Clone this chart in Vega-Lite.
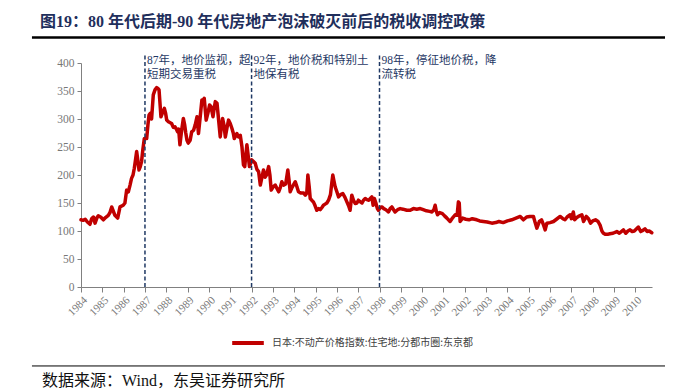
{
  "$schema": "https://vega.github.io/schema/vega-lite/v6.json",
  "autosize": "none",
  "width": 571,
  "height": 224,
  "padding": {"left": 81, "top": 63, "right": 31, "bottom": 102},
  "background": "white",
  "config": {"view": {"stroke": null}, "axis": {"labelOverlap": false, "grid": false}},
  "title": {
    "text": "图19：80 年代后期-90 年代房地产泡沫破灭前后的税收调控政策",
    "font": "Liberation Serif, Noto Sans CJK SC",
    "fontSize": 16,
    "fontWeight": "bold",
    "color": "#1f2f5c",
    "anchor": "start",
    "frame": "group",
    "dx": -41,
    "dy": 14,
    "offset": 20
  },
  "datasets": {
    "main": [
      {"t":1984.00,"v":120},{"t":1984.10,"v":119},{"t":1984.20,"v":121},{"t":1984.30,"v":116},{"t":1984.42,"v":112},
      {"t":1984.50,"v":122},{"t":1984.58,"v":125},{"t":1984.66,"v":114},{"t":1984.75,"v":124},{"t":1984.81,"v":127},
      {"t":1984.92,"v":125},{"t":1985.05,"v":120},{"t":1985.15,"v":124},{"t":1985.28,"v":128},{"t":1985.36,"v":133},
      {"t":1985.44,"v":143},{"t":1985.52,"v":135},{"t":1985.59,"v":128},{"t":1985.72,"v":123},{"t":1985.83,"v":143},
      {"t":1985.98,"v":146},{"t":1986.06,"v":150},{"t":1986.14,"v":173},{"t":1986.22,"v":170},{"t":1986.30,"v":182},
      {"t":1986.37,"v":194},{"t":1986.44,"v":200},{"t":1986.50,"v":212},{"t":1986.56,"v":228},{"t":1986.61,"v":242},
      {"t":1986.67,"v":225},{"t":1986.72,"v":209},{"t":1986.78,"v":215},{"t":1986.84,"v":224},{"t":1986.90,"v":245},
      {"t":1986.97,"v":265},{"t":1987.08,"v":265},{"t":1987.14,"v":290},{"t":1987.19,"v":307},{"t":1987.25,"v":310},
      {"t":1987.31,"v":300},{"t":1987.39,"v":343},{"t":1987.47,"v":352},{"t":1987.55,"v":356},{"t":1987.62,"v":354},
      {"t":1987.66,"v":352},{"t":1987.75,"v":304},{"t":1987.83,"v":312},{"t":1987.91,"v":319},{"t":1987.97,"v":310},
      {"t":1988.02,"v":298},{"t":1988.10,"v":295},{"t":1988.25,"v":292},{"t":1988.33,"v":285},{"t":1988.41,"v":286},
      {"t":1988.47,"v":282},{"t":1988.53,"v":277},{"t":1988.58,"v":282},{"t":1988.64,"v":254},{"t":1988.72,"v":280},
      {"t":1988.80,"v":301},{"t":1988.86,"v":290},{"t":1988.91,"v":276},{"t":1988.97,"v":262},{"t":1989.03,"v":257},
      {"t":1989.12,"v":262},{"t":1989.19,"v":277},{"t":1989.28,"v":280},{"t":1989.36,"v":290},{"t":1989.44,"v":304},
      {"t":1989.51,"v":274},{"t":1989.58,"v":300},{"t":1989.67,"v":334},{"t":1989.72,"v":332},{"t":1989.78,"v":337},
      {"t":1989.87,"v":298},{"t":1989.95,"v":310},{"t":1990.03,"v":325},{"t":1990.10,"v":322},{"t":1990.19,"v":304},
      {"t":1990.25,"v":320},{"t":1990.30,"v":331},{"t":1990.38,"v":328},{"t":1990.45,"v":300},{"t":1990.53,"v":268},
      {"t":1990.58,"v":285},{"t":1990.64,"v":301},{"t":1990.70,"v":290},{"t":1990.77,"v":268},{"t":1990.85,"v":285},
      {"t":1990.92,"v":298},{"t":1991.00,"v":292},{"t":1991.08,"v":283},{"t":1991.14,"v":275},{"t":1991.19,"v":265},
      {"t":1991.25,"v":270},{"t":1991.31,"v":274},{"t":1991.39,"v":268},{"t":1991.47,"v":271},{"t":1991.55,"v":250},
      {"t":1991.62,"v":218},{"t":1991.68,"v":215},{"t":1991.73,"v":235},{"t":1991.78,"v":254},{"t":1991.84,"v":235},
      {"t":1991.90,"v":215},{"t":1992.01,"v":227},{"t":1992.09,"v":224},{"t":1992.17,"v":221},{"t":1992.25,"v":210},
      {"t":1992.33,"v":206},{"t":1992.41,"v":182},{"t":1992.48,"v":195},{"t":1992.56,"v":209},{"t":1992.63,"v":196},
      {"t":1992.70,"v":200},{"t":1992.80,"v":215},{"t":1992.86,"v":200},{"t":1992.92,"v":173},{"t":1993.00,"v":178},
      {"t":1993.11,"v":182},{"t":1993.19,"v":176},{"t":1993.27,"v":170},{"t":1993.35,"v":178},{"t":1993.42,"v":188},
      {"t":1993.50,"v":182},{"t":1993.60,"v":184},{"t":1993.70,"v":209},{"t":1993.76,"v":190},{"t":1993.81,"v":170},
      {"t":1993.90,"v":178},{"t":1994.05,"v":188},{"t":1994.12,"v":180},{"t":1994.20,"v":170},{"t":1994.30,"v":168},
      {"t":1994.44,"v":168},{"t":1994.52,"v":164},{"t":1994.59,"v":168},{"t":1994.64,"v":200},{"t":1994.70,"v":180},
      {"t":1994.75,"v":158},{"t":1994.82,"v":155},{"t":1994.90,"v":152},{"t":1994.98,"v":145},{"t":1995.06,"v":137},
      {"t":1995.15,"v":140},{"t":1995.22,"v":138},{"t":1995.30,"v":142},{"t":1995.37,"v":146},{"t":1995.45,"v":148},
      {"t":1995.53,"v":150},{"t":1995.61,"v":155},{"t":1995.70,"v":165},{"t":1995.76,"v":185},{"t":1995.81,"v":200},
      {"t":1995.86,"v":190},{"t":1995.92,"v":179},{"t":1996.00,"v":170},{"t":1996.08,"v":161},{"t":1996.18,"v":165},
      {"t":1996.28,"v":167},{"t":1996.38,"v":160},{"t":1996.47,"v":152},{"t":1996.55,"v":145},{"t":1996.62,"v":137},
      {"t":1996.70,"v":164},{"t":1996.78,"v":155},{"t":1996.86,"v":149},{"t":1996.94,"v":150},{"t":1997.01,"v":155},
      {"t":1997.10,"v":152},{"t":1997.18,"v":150},{"t":1997.25,"v":155},{"t":1997.33,"v":158},{"t":1997.41,"v":156},
      {"t":1997.50,"v":155},{"t":1997.57,"v":158},{"t":1997.64,"v":161},{"t":1997.70,"v":146},{"t":1997.76,"v":158},
      {"t":1997.83,"v":150},{"t":1997.90,"v":140},{"t":1997.95,"v":137},{"t":1998.04,"v":142},{"t":1998.11,"v":143},
      {"t":1998.20,"v":140},{"t":1998.30,"v":138},{"t":1998.42,"v":134},{"t":1998.50,"v":140},{"t":1998.58,"v":143},
      {"t":1998.66,"v":138},{"t":1998.73,"v":134},{"t":1998.85,"v":138},{"t":1998.97,"v":140},{"t":1999.10,"v":139},
      {"t":1999.28,"v":137},{"t":1999.44,"v":137},{"t":1999.59,"v":140},{"t":1999.75,"v":139},{"t":1999.91,"v":140},
      {"t":2000.05,"v":138},{"t":2000.20,"v":136},{"t":2000.35,"v":135},{"t":2000.46,"v":134},{"t":2000.55,"v":138},
      {"t":2000.61,"v":146},{"t":2000.66,"v":136},{"t":2000.72,"v":129},{"t":2000.82,"v":133},{"t":2000.95,"v":131},
      {"t":2001.05,"v":127},{"t":2001.16,"v":123},{"t":2001.31,"v":117},{"t":2001.40,"v":122},{"t":2001.55,"v":129},
      {"t":2001.64,"v":128},{"t":2001.70,"v":152},{"t":2001.74,"v":150},{"t":2001.78,"v":117},{"t":2001.90,"v":123},
      {"t":2002.05,"v":121},{"t":2002.20,"v":120},{"t":2002.35,"v":122},{"t":2002.56,"v":120},{"t":2002.70,"v":118},
      {"t":2002.87,"v":117},{"t":2003.05,"v":116},{"t":2003.27,"v":114},{"t":2003.45,"v":115},{"t":2003.60,"v":117},
      {"t":2003.80,"v":115},{"t":2004.00,"v":118},{"t":2004.20,"v":120},{"t":2004.40,"v":123},{"t":2004.60,"v":126},
      {"t":2004.75,"v":120},{"t":2004.90,"v":125},{"t":2005.05,"v":126},{"t":2005.22,"v":126},{"t":2005.30,"v":115},
      {"t":2005.38,"v":105},{"t":2005.50,"v":117},{"t":2005.60,"v":120},{"t":2005.70,"v":110},{"t":2005.77,"v":102},
      {"t":2005.85,"v":114},{"t":2006.00,"v":115},{"t":2006.16,"v":117},{"t":2006.30,"v":121},{"t":2006.47,"v":126},
      {"t":2006.60,"v":122},{"t":2006.70,"v":120},{"t":2006.80,"v":125},{"t":2006.94,"v":129},{"t":2007.00,"v":122},
      {"t":2007.09,"v":134},{"t":2007.15,"v":120},{"t":2007.25,"v":124},{"t":2007.33,"v":126},{"t":2007.49,"v":129},
      {"t":2007.57,"v":117},{"t":2007.70,"v":126},{"t":2007.80,"v":122},{"t":2007.90,"v":114},{"t":2008.00,"v":118},
      {"t":2008.13,"v":120},{"t":2008.25,"v":117},{"t":2008.35,"v":110},{"t":2008.43,"v":100},{"t":2008.50,"v":96},
      {"t":2008.60,"v":94},{"t":2008.70,"v":94},{"t":2008.80,"v":95},{"t":2008.95,"v":96},{"t":2009.13,"v":99},
      {"t":2009.25,"v":96},{"t":2009.44,"v":102},{"t":2009.55,"v":96},{"t":2009.65,"v":100},{"t":2009.75,"v":102},
      {"t":2009.85,"v":99},{"t":2009.95,"v":100},{"t":2010.14,"v":107},{"t":2010.25,"v":99},{"t":2010.35,"v":101},
      {"t":2010.45,"v":104},{"t":2010.55,"v":99},{"t":2010.65,"v":100},{"t":2010.77,"v":97}
    ],
    "events": [
      {"t":1987,"label":"87年，地价监视，超\n短期交易重税"},
      {"t":1992,"label":"92年，地价税和特别土\n地保有税"},
      {"t":1998,"label":"98年，停征地价税，降\n流转税"}
    ],
    "one": [{}]
  },
  "layer": [
    {
      "data": {"name": "main"},
      "mark": {"type": "line", "strokeWidth": 3.5, "strokeJoin": "round", "strokeCap": "round"},
      "encoding": {
        "x": {
          "field": "t", "type": "quantitative",
          "scale": {"domain": [1984, 2010.78], "nice": false, "zero": false},
          "axis": {
            "title": null, "values": [1984,1985,1986,1987,1988,1989,1990,1991,1992,1993,1994,1995,1996,1997,1998,1999,2000,2001,2002,2003,2004,2005,2006,2007,2008,2009,2010],
            "format": "d", "labelAngle": -45, "grid": false, "labelOverlap": false,
            "domainColor": "#808080", "tickColor": "#808080", "tickSize": 5,
            "labelColor": "#777777", "labelFont": "Liberation Serif", "labelFontSize": 11, "labelPadding": 2
          }
        },
        "y": {
          "field": "v", "type": "quantitative",
          "scale": {"domain": [0, 400], "nice": false},
          "axis": {
            "title": null, "values": [0,50,100,150,200,250,300,350,400], "grid": false, "labelOverlap": false,
            "domainColor": "#808080", "tickColor": "#808080", "tickSize": 4,
            "labelColor": "#777777", "labelFont": "Liberation Serif", "labelFontSize": 11.5, "labelPadding": 3
          }
        },
        "color": {
          "datum": "日本:不动产价格指数:住宅地:分都市圈:东京都",
          "scale": {"range": ["#c00000"]},
          "legend": {
            "title": null, "orient": "none", "legendX": 149, "legendY": 262,
            "symbolType": "stroke", "symbolSize": 1000, "symbolStrokeWidth": 4, "labelLimit": 0,
            "labelFont": "Noto Sans CJK SC", "labelFontSize": 10, "labelColor": "#404040", "labelOffset": 6
          }
        }
      }
    },
    {
      "data": {"name": "events"},
      "mark": {"type": "rule", "color": "#1f3864", "strokeWidth": 1.5, "strokeDash": [4, 2.5]},
      "encoding": {
        "x": {
          "field": "t", "type": "quantitative",
          "axis": {
            "title": null, "values": [1984,1985,1986,1987,1988,1989,1990,1991,1992,1993,1994,1995,1996,1997,1998,1999,2000,2001,2002,2003,2004,2005,2006,2007,2008,2009,2010],
            "format": "d", "labelAngle": -45, "grid": false, "labelOverlap": false,
            "domainColor": "#808080", "tickColor": "#808080", "tickSize": 5,
            "labelColor": "#777777", "labelFont": "Liberation Serif", "labelFontSize": 11, "labelPadding": 2
          }
        },
        "y": {
          "datum": 0, "type": "quantitative",
          "axis": {
            "title": null, "values": [0,50,100,150,200,250,300,350,400], "grid": false, "labelOverlap": false,
            "domainColor": "#808080", "tickColor": "#808080", "tickSize": 4,
            "labelColor": "#777777", "labelFont": "Liberation Serif", "labelFontSize": 11.5, "labelPadding": 3
          }
        },
        "y2": {"datum": 414}
      }
    },
    {
      "data": {"name": "events"},
      "mark": {"type": "text", "align": "left", "baseline": "top", "dx": 2, "lineBreak": "\n", "lineHeight": 14,
               "font": "Liberation Serif, Noto Sans CJK SC", "fontSize": 11.5, "color": "#1f3864"},
      "encoding": {
        "x": {
          "field": "t", "type": "quantitative",
          "axis": {
            "title": null, "values": [1984,1985,1986,1987,1988,1989,1990,1991,1992,1993,1994,1995,1996,1997,1998,1999,2000,2001,2002,2003,2004,2005,2006,2007,2008,2009,2010],
            "format": "d", "labelAngle": -45, "grid": false, "labelOverlap": false,
            "domainColor": "#808080", "tickColor": "#808080", "tickSize": 5,
            "labelColor": "#777777", "labelFont": "Liberation Serif", "labelFontSize": 11, "labelPadding": 2
          }
        },
        "y": {
          "datum": 415, "type": "quantitative",
          "axis": {
            "title": null, "values": [0,50,100,150,200,250,300,350,400], "grid": false, "labelOverlap": false,
            "domainColor": "#808080", "tickColor": "#808080", "tickSize": 4,
            "labelColor": "#777777", "labelFont": "Liberation Serif", "labelFontSize": 11.5, "labelPadding": 3
          }
        },
        "text": {"field": "label"}
      }
    },
    {
      "data": {"name": "one"},
      "mark": {"type": "rule", "color": "#000000", "strokeWidth": 2.5},
      "encoding": {
        "x": {
          "datum": 1981.70, "type": "quantitative",
          "axis": {
            "title": null, "values": [1984,1985,1986,1987,1988,1989,1990,1991,1992,1993,1994,1995,1996,1997,1998,1999,2000,2001,2002,2003,2004,2005,2006,2007,2008,2009,2010],
            "format": "d", "labelAngle": -45, "grid": false, "labelOverlap": false,
            "domainColor": "#808080", "tickColor": "#808080", "tickSize": 5,
            "labelColor": "#777777", "labelFont": "Liberation Serif", "labelFontSize": 11, "labelPadding": 2
          }
        },
        "x2": {"datum": 2011.39},
        "y": {
          "datum": 445.5, "type": "quantitative",
          "axis": {
            "title": null, "values": [0,50,100,150,200,250,300,350,400], "grid": false, "labelOverlap": false,
            "domainColor": "#808080", "tickColor": "#808080", "tickSize": 4,
            "labelColor": "#777777", "labelFont": "Liberation Serif", "labelFontSize": 11.5, "labelPadding": 3
          }
        }
      }
    },
    {
      "data": {"name": "one"},
      "mark": {"type": "rule", "color": "#000000", "strokeWidth": 1},
      "encoding": {
        "x": {
          "datum": 1981.70, "type": "quantitative",
          "axis": {
            "title": null, "values": [1984,1985,1986,1987,1988,1989,1990,1991,1992,1993,1994,1995,1996,1997,1998,1999,2000,2001,2002,2003,2004,2005,2006,2007,2008,2009,2010],
            "format": "d", "labelAngle": -45, "grid": false, "labelOverlap": false,
            "domainColor": "#808080", "tickColor": "#808080", "tickSize": 5,
            "labelColor": "#777777", "labelFont": "Liberation Serif", "labelFontSize": 11, "labelPadding": 2
          }
        },
        "x2": {"datum": 2011.39},
        "y": {
          "datum": -141, "type": "quantitative",
          "axis": {
            "title": null, "values": [0,50,100,150,200,250,300,350,400], "grid": false, "labelOverlap": false,
            "domainColor": "#808080", "tickColor": "#808080", "tickSize": 4,
            "labelColor": "#777777", "labelFont": "Liberation Serif", "labelFontSize": 11.5, "labelPadding": 3
          }
        }
      }
    },
    {
      "data": {"name": "one"},
      "mark": {"type": "text", "align": "left", "baseline": "middle", "font": "Liberation Serif, Noto Sans CJK SC", "fontSize": 16, "color": "#111111"},
      "encoding": {
        "x": {
          "datum": 1982.17, "type": "quantitative",
          "axis": {
            "title": null, "values": [1984,1985,1986,1987,1988,1989,1990,1991,1992,1993,1994,1995,1996,1997,1998,1999,2000,2001,2002,2003,2004,2005,2006,2007,2008,2009,2010],
            "format": "d", "labelAngle": -45, "grid": false, "labelOverlap": false,
            "domainColor": "#808080", "tickColor": "#808080", "tickSize": 5,
            "labelColor": "#777777", "labelFont": "Liberation Serif", "labelFontSize": 11, "labelPadding": 2
          }
        },
        "y": {
          "datum": -168, "type": "quantitative",
          "axis": {
            "title": null, "values": [0,50,100,150,200,250,300,350,400], "grid": false, "labelOverlap": false,
            "domainColor": "#808080", "tickColor": "#808080", "tickSize": 4,
            "labelColor": "#777777", "labelFont": "Liberation Serif", "labelFontSize": 11.5, "labelPadding": 3
          }
        },
        "text": {"value": "数据来源：Wind，东吴证券研究所"}
      }
    }
  ]
}
